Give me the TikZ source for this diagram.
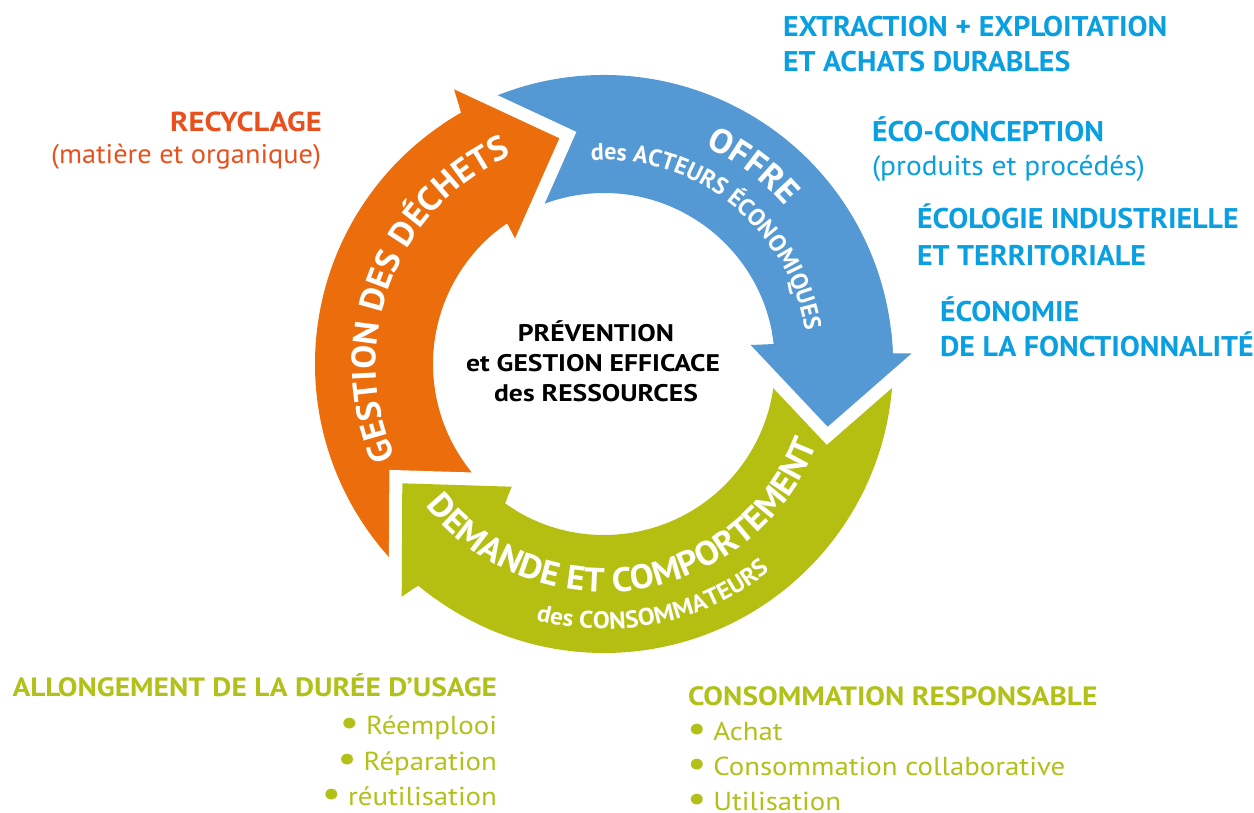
\documentclass[tikz,border=0pt]{standalone}
\usepackage{graphicx}
\usepackage{fontspec}
\setmainfont{PT Sans}
\newfontfamily\fA{PT Sans}[FakeStretch=1.05]
\newfontfamily\fB{PT Sans}[FakeStretch=1.11]
\newfontfamily\fC{PT Sans}[FakeStretch=1.15]
\usetikzlibrary{decorations.text}
\definecolor{orangeA}{HTML}{EB6D0B}
\definecolor{blueA}{HTML}{5599D4}
\definecolor{greenA}{HTML}{B5BF12}
\definecolor{cyanT}{HTML}{0A9FE0}
\definecolor{redT}{HTML}{E8511D}
\definecolor{greenT}{HTML}{B2C11A}
\newcommand\arcbig{\fA\bfseries\fontsize{34}{34}\selectfont}
\newcommand\arcsmall{\bfseries\fontsize{24}{24}\selectfont}
\newcommand\arcsmallw{\fA\bfseries\fontsize{24}{24}\selectfont}
\newcommand\blt{{\bfseries\scalebox{1.35}{•}}}
\tikzset{
  lbl/.style={inner sep=0pt, outer sep=0pt},
  headC/.style={lbl, anchor=base west, text=cyanT, font=\fA\bfseries\fontsize{28.5}{28.5}\selectfont},
  subC/.style={lbl, anchor=base west, text=cyanT, font=\fA\fontsize{28}{28}\selectfont},
  headR/.style={lbl, anchor=base east, text=redT, font=\fB\bfseries\fontsize{27.5}{27.5}\selectfont},
  subR/.style={lbl, anchor=base east, text=redT, font=\fA\fontsize{27}{27}\selectfont},
  headG/.style={lbl, text=greenT, font=\fB\bfseries\fontsize{26.5}{26.5}\selectfont},
  itemG/.style={lbl, text=greenT, font=\fB\fontsize{26}{26}\selectfont},
  midT/.style={lbl, anchor=base, text=black, font=\fC\bfseries\fontsize{24}{24}\selectfont},
  halo/.style={draw=white, line width=26pt, line join=miter},
}
\begin{document}
\begin{tikzpicture}[x=1pt,y=-1pt]
\useasboundingbox (0,0) rectangle (1254,812);
\begin{scope}[shift={(604,364)}]
  % bands with heads
  \fill[orangeA] (130:289) arc[start angle=130,end angle=240.4,radius=289]
     -- (-150,-274.7) -- (-44.7,-225.7) -- (-89,-125.7)
     -- (235.45:171) arc[start angle=235.45,end angle=125.4,radius=171] -- cycle;
  \fill[blueA] (240.4:289) arc[start angle=240.4,end angle=357.9,radius=289]
     -- (307.7,-10.7) -- (223.7,62.7) -- (146.7,-19)
     -- (353.3:171) arc[start angle=353.3,end angle=235.45,radius=171] -- cycle;
  \fill[greenA] (357.9:289) arc[start angle=357.9,end angle=490,radius=289]
     -- (-202.3,232.7) -- (-201.7,119.3) -- (-92.3,122.7)
     -- (485.4:171) arc[start angle=485.4,end angle=353.3,radius=171] -- cycle;
  % white gaps in front of heads
  \draw[halo] (-150,-274.7) -- (-44.7,-225.7) -- (-89,-125.7);
  \draw[halo] (307.7,-10.7) -- (223.7,62.7) -- (146.7,-19);
  \draw[halo] (-202.3,232.7) -- (-201.7,119.3) -- (-92.3,122.7);
  % heads again, with a short stretch of their own band
  \fill[orangeA] (-150,-274.7) -- (-44.7,-225.7) -- (-89,-125.7)
     -- (235.45:171) arc[start angle=235.45,end angle=231,radius=171]
     -- (236:289) arc[start angle=236,end angle=240.4,radius=289] -- cycle;
  \fill[blueA] (307.7,-10.7) -- (223.7,62.7) -- (146.7,-19)
     -- (353.3:171) arc[start angle=353.3,end angle=349,radius=171]
     -- (353.5:289) arc[start angle=353.5,end angle=357.9,radius=289] -- cycle;
  \fill[greenA] (-202.3,232.7) -- (-201.7,119.3) -- (-92.3,122.7)
     -- (485.4:171) arc[start angle=485.4,end angle=481,radius=171]
     -- (485.6:289) arc[start angle=485.6,end angle=490,radius=289] -- cycle;
  % curved texts
  \path[decorate, decoration={text along path, text align=center, text color=white,
      text={|\arcbig|GESTION DES DÉCHETS}}]
      (141:228) arc[start angle=141,end angle=261,radius=228];
  \path[decorate, decoration={text along path, text align=center, text color=white,
      text={|\arcbig|OFFRE}}]
      (277:240) arc[start angle=277,end angle=337,radius=240];
  \path[decorate, decoration={text along path, text align=center, text color=white,
      text={|\arcsmall|des ACTEURS ÉCONOMIQUES}}]
      (258:204) arc[start angle=258,end angle=359,radius=204];
  \path[decorate, decoration={text along path, text align=center, text color=white,
      text={|\arcbig|DEMANDE ET COMPORTEMENT}}]
      (150:228) arc[start angle=150,end angle=12,radius=228];
  \path[decorate, decoration={text along path, text align=center, text color=white,
      text={|\arcsmallw|des CONSOMMATEURS}}]
      (118:265) arc[start angle=118,end angle=38,radius=265];
\end{scope}
% centre text
\node[midT] (m1) at (596,341.7) {PRÉVENTION};
\node[midT] (m2) at (593,371.7) {et GESTION EFFICACE};
\node[midT] (m3) at (596,401.7) {des RESSOURCES};
% right texts
\node[headC] (e1) at (783,36.7) {EXTRACTION + EXPLOITATION};
\node[headC] (e2) at (783,71.7) {ET ACHATS DURABLES};
\node[headC] (c1) at (872,141.7) {ÉCO-CONCEPTION};
\node[subC] (c2) at (872,175) {(produits et procédés)};
\node[headC] (i1) at (917,228.3) {ÉCOLOGIE INDUSTRIELLE};
\node[headC] (i2) at (917,265) {ET TERRITORIALE};
\node[headC] (f1) at (940,321.7) {ÉCONOMIE};
\node[headC] (f2) at (940,356.7) {DE LA FONCTIONNALITÉ};
% recyclage
\node[headR] (r1) at (321.7,131) {RECYCLAGE};
\node[subR] (r2) at (321,163.3) {(matière et organique)};
% bottom left
\node[headG, anchor=base east] (a1) at (497,696.7) {ALLONGEMENT DE LA DURÉE D’USAGE};
\node[itemG, anchor=base east] (a2) at (497,734) {\blt\ Réemplooi};
\node[itemG, anchor=base east] (a3) at (497,770) {\blt\ Réparation};
\node[itemG, anchor=base east] (a4) at (497,805) {\blt\ réutilisation};
% bottom right
\node[headG, anchor=base west] (b1) at (688,705) {CONSOMMATION RESPONSABLE};
\node[itemG, anchor=base west] (b2) at (688,740) {\blt\ Achat};
\node[itemG, anchor=base west] (b3) at (688,775) {\blt\ Consommation collaborative};
\node[itemG, anchor=base west] (b4) at (688,810) {\blt\ Utilisation};
\end{tikzpicture}
\end{document}
